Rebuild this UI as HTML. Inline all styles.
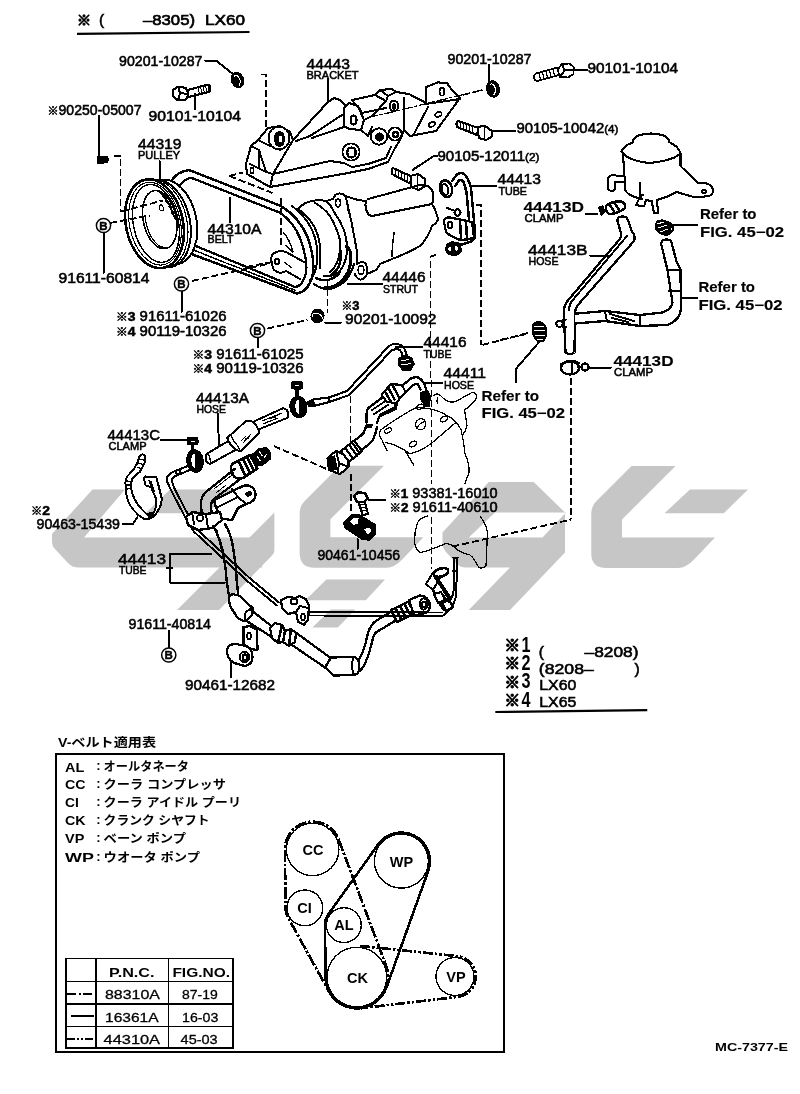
<!DOCTYPE html>
<html lang="ja">
<head>
<meta charset="utf-8">
<title>MC-7377-E Power Steering Pump</title>
<style>
html,body{margin:0;padding:0;background:#fff;}
body{width:800px;height:1094px;overflow:hidden;position:relative;}
svg{position:absolute;left:0;top:0;display:block;}
text{font-family:"Liberation Sans","Noto Sans CJK JP",sans-serif;fill:#000;}
#labels text{stroke:#000;stroke-width:0.55px;}
#labels text.b{stroke-width:0.15px;}
.n{font-size:14px;}
.p{font-size:15.5px;}
.s{font-size:11px;}
.b{font-weight:bold;}
path,ellipse,circle,rect{shape-rendering:crispEdges;}
#wm path{shape-rendering:auto;}
.l{fill:none;stroke:#000;stroke-width:2;stroke-linecap:round;stroke-linejoin:round;}
.l2{fill:none;stroke:#000;stroke-width:2.5;stroke-linecap:round;stroke-linejoin:round;}
.l3{fill:none;stroke:#000;stroke-width:2.6;stroke-linecap:round;stroke-linejoin:round;}
.w{fill:#fff;stroke:#000;stroke-width:2.1;stroke-linejoin:round;}
.w2{fill:#fff;stroke:#000;stroke-width:2.5;stroke-linejoin:round;}
.k{fill:#000;stroke:none;}
.d{fill:none;stroke:#000;stroke-width:1.9;stroke-dasharray:7 3;}
.dd{fill:none;stroke:#000;stroke-width:1.2;stroke-dasharray:9 3 2 3;}
</style>
</head>
<body>
<svg width="800" height="1094" viewBox="0 0 800 1094" style="filter:grayscale(1)">
<rect x="0" y="0" width="800" height="1094" fill="#fff"/>
<g id="wm" fill="#c6c6c6" stroke="none">
<!-- shape 1 -->
<path d="M92.5 489.5 L125 489.5 L84 537.5 L262 537.5 L262 567.5 L79 567.5 Q72 567.5 68 563 L55 549 Q52 546 52 541 L52 534 Z"/>
<path d="M170 489.5 L232 489.5 L207.5 513.25 L145.5 513.25 Z"/>
<path d="M274.4 512.5 L274.4 550 Q274.4 553 272.5 555 L219 610 L177 610 Z"/>
<!-- shape 2 -->
<path transform="translate(-291.6 -0.3)" d="M631.5 466 L675.5 466 L622 519.5 L622 537.5 L715 537.5 L694 559.5 Q686 568 678 568 L606 568 Q591.25 568 591.25 553 L591.25 514 Q591.25 506 597 500.5 Z"/>
<path d="M326.4 579.6 L385 579.6 L365.75 600.25 L305.4 600.25 Z"/>
<path d="M330.75 609.5 L355.25 609.5 L337.75 627.4 L312.4 627.4 Z"/>
<!-- shape 3 -->
<path fill-rule="evenodd" d="M488.75 482 L533.75 482 L565 512.5 L565 552.5 L510 610 L468.75 610 L510 567.5 L466 567.5 Q460 567.5 456 563 L446 552 Q442.5 548 442.5 543 L442.5 532.5 Z M495 512.5 L566 512.5 L542.5 537.5 L468.75 537.5 Z"/>
<!-- shape 4 -->
<path d="M631.5 466 L675.5 466 L622 519.5 L622 537.5 L715 537.5 L694 559.5 Q686 568 678 568 L606 568 Q591.25 568 591.25 553 L591.25 514 Q591.25 506 597 500.5 Z"/>
<path d="M690 489.5 L748 489.5 L723.75 513.25 L664.5 513.25 Z"/>
</g>
<g id="labels">
<text x="77" y="24.5" font-size="14" font-weight="bold" style="stroke-width:1.1px">※</text>
<text x="99" y="25" font-size="15.5">(</text>
<text x="143" y="25" font-size="15.5" textLength="52" lengthAdjust="spacingAndGlyphs" style="stroke-width:0.7px">–8305)</text>
<text x="205" y="25" font-size="15.5" textLength="40" lengthAdjust="spacingAndGlyphs" style="stroke-width:0.7px">LX60</text>
<path d="M77 33.8 L249.5 32" stroke="#000" stroke-width="2.2" fill="none" style="shape-rendering:auto"/>
<text class="n" x="119" y="65.5" textLength="83.5" lengthAdjust="spacingAndGlyphs">90201-10287</text>
<text class="p" x="306.5" y="68.5" textLength="43.5" lengthAdjust="spacingAndGlyphs">44443</text>
<text class="s" x="306.5" y="79" textLength="52" lengthAdjust="spacingAndGlyphs">BRACKET</text>
<text class="n" x="148.5" y="120.5" textLength="92.5" lengthAdjust="spacingAndGlyphs">90101-10104</text>
<text class="n" x="47.5" y="114.5" textLength="94" lengthAdjust="spacingAndGlyphs"><tspan font-size="11" font-weight="bold">※</tspan>90250-05007</text>
<text class="p" x="138" y="149" textLength="43.5" lengthAdjust="spacingAndGlyphs">44319</text>
<text class="s" x="138" y="158.5" textLength="42" lengthAdjust="spacingAndGlyphs">PULLEY</text>
<text class="p" x="207.5" y="233.5" textLength="54" lengthAdjust="spacingAndGlyphs">44310A</text>
<text class="s" x="207.5" y="243" textLength="26" lengthAdjust="spacingAndGlyphs">BELT</text>
<text class="n" x="58.5" y="283" textLength="91" lengthAdjust="spacingAndGlyphs">91611-60814</text>
<text class="n" x="116" y="321" textLength="110.5" lengthAdjust="spacingAndGlyphs"><tspan font-size="11" font-weight="bold">※</tspan><tspan font-size="13" font-weight="bold">3</tspan> 91611-61026</text>
<text class="n" x="116" y="335.5" textLength="110.5" lengthAdjust="spacingAndGlyphs"><tspan font-size="11" font-weight="bold">※</tspan><tspan font-size="13" font-weight="bold">4</tspan> 90119-10326</text>
<text x="341.5" y="310" font-size="11" font-weight="bold" textLength="18" lengthAdjust="spacingAndGlyphs">※<tspan font-size="13">3</tspan></text>
<text class="n" x="345" y="324" textLength="91.5" lengthAdjust="spacingAndGlyphs">90201-10092</text>
<text class="n" x="192.5" y="358.5" textLength="111" lengthAdjust="spacingAndGlyphs"><tspan font-size="11" font-weight="bold">※</tspan><tspan font-size="13" font-weight="bold">3</tspan> 91611-61025</text>
<text class="n" x="192.5" y="372.5" textLength="111" lengthAdjust="spacingAndGlyphs"><tspan font-size="11" font-weight="bold">※</tspan><tspan font-size="13" font-weight="bold">4</tspan> 90119-10326</text>
<text class="n" x="447.5" y="63.5" textLength="84" lengthAdjust="spacingAndGlyphs">90201-10287</text>
<text class="n" x="587.5" y="72.5" textLength="90.5" lengthAdjust="spacingAndGlyphs">90101-10104</text>
<text class="n" x="516.5" y="132.5" textLength="102" lengthAdjust="spacingAndGlyphs">90105-10042<tspan font-size="11">(4)</tspan></text>
<text class="n" x="437.5" y="160.5" textLength="102" lengthAdjust="spacingAndGlyphs">90105-12011<tspan font-size="11">(2)</tspan></text>
<text class="p" x="497.5" y="184" textLength="43.5" lengthAdjust="spacingAndGlyphs">44413</text>
<text class="s" x="498.5" y="194.5" textLength="28.5" lengthAdjust="spacingAndGlyphs">TUBE</text>
<text class="p b" x="523.5" y="212" textLength="60.5" lengthAdjust="spacingAndGlyphs">44413D</text>
<text class="s" x="524.5" y="222" textLength="39" lengthAdjust="spacingAndGlyphs">CLAMP</text>
<text class="p" x="528" y="254.5" textLength="59.5" lengthAdjust="spacingAndGlyphs">44413B</text>
<text class="s" x="528.5" y="265" textLength="30" lengthAdjust="spacingAndGlyphs">HOSE</text>
<text class="n b" x="700" y="218.5" textLength="56.5" lengthAdjust="spacingAndGlyphs">Refer to</text>
<text class="n b" x="700" y="236.5" textLength="84" lengthAdjust="spacingAndGlyphs">FIG. 45−02</text>
<text class="n b" x="698.5" y="292" textLength="56.5" lengthAdjust="spacingAndGlyphs">Refer to</text>
<text class="n b" x="698.5" y="309.5" textLength="84" lengthAdjust="spacingAndGlyphs">FIG. 45−02</text>
<text class="p" x="382.5" y="281.5" textLength="43" lengthAdjust="spacingAndGlyphs">44446</text>
<text class="s" x="383" y="293" textLength="35" lengthAdjust="spacingAndGlyphs">STRUT</text>
<text class="p" x="423.5" y="346.5" textLength="43" lengthAdjust="spacingAndGlyphs">44416</text>
<text class="s" x="423.5" y="357.5" textLength="28" lengthAdjust="spacingAndGlyphs">TUBE</text>
<text class="p b" x="613.5" y="366" textLength="60" lengthAdjust="spacingAndGlyphs">44413D</text>
<text class="s" x="614" y="376" textLength="39" lengthAdjust="spacingAndGlyphs">CLAMP</text>
<text class="p" x="443.5" y="378" textLength="42.5" lengthAdjust="spacingAndGlyphs">44411</text>
<text class="s" x="444" y="389" textLength="30" lengthAdjust="spacingAndGlyphs">HOSE</text>
<text class="n b" x="481.5" y="400.5" textLength="57.5" lengthAdjust="spacingAndGlyphs">Refer to</text>
<text class="n b" x="481.5" y="417.5" textLength="83.5" lengthAdjust="spacingAndGlyphs">FIG. 45−02</text>
<text class="n" x="389.5" y="497.5" textLength="108" lengthAdjust="spacingAndGlyphs"><tspan font-size="11" font-weight="bold">※</tspan><tspan font-size="13" font-weight="bold">1</tspan> 93381-16010</text>
<text class="n" x="389.5" y="511.5" textLength="108" lengthAdjust="spacingAndGlyphs"><tspan font-size="11" font-weight="bold">※</tspan><tspan font-size="13" font-weight="bold">2</tspan> 91611-40610</text>
<text class="n" x="317.5" y="560" textLength="82.5" lengthAdjust="spacingAndGlyphs">90461-10456</text>
<text class="p" x="196" y="402.5" textLength="53" lengthAdjust="spacingAndGlyphs">44413A</text>
<text class="s" x="196.5" y="413" textLength="29.5" lengthAdjust="spacingAndGlyphs">HOSE</text>
<text class="p" x="107.5" y="440" textLength="52.5" lengthAdjust="spacingAndGlyphs">44413C</text>
<text class="s" x="108.5" y="450" textLength="38" lengthAdjust="spacingAndGlyphs">CLAMP</text>
<text x="31" y="514.5" font-size="11" font-weight="bold" textLength="19" lengthAdjust="spacingAndGlyphs">※<tspan font-size="13.5">2</tspan></text>
<text class="n" x="36.5" y="528.5" textLength="83.5" lengthAdjust="spacingAndGlyphs">90463-15439</text>
<text class="p" x="118" y="563.5" textLength="48" lengthAdjust="spacingAndGlyphs">44413</text>
<text class="s" x="119" y="574" textLength="27.5" lengthAdjust="spacingAndGlyphs">TUBE</text>
<text class="n" x="128.5" y="628.5" textLength="82.5" lengthAdjust="spacingAndGlyphs">91611-40814</text>
<text class="n" x="185" y="690" textLength="90" lengthAdjust="spacingAndGlyphs">90461-12682</text>
</g>
<g id="pulley-belt">
<!-- belt loop -->
<path class="l2" d="M172 180 Q177 172 189 170 L281 206 Q299 217 308 238 Q316 262 312 278 Q307 292 297 293.5 L190 253.5"/>
<path class="l2" d="M178 188 Q182 180 191 177.7 L279.5 212.5 Q293 221 300 238 Q308 260 306 273 Q302 287 295 287 L191 244" style="stroke-width:2.3"/>
<path class="l" stroke-dasharray="2 1.4" d="M192 249.5 L296 290.5" style="stroke-width:1.5"/>
<!-- pulley back grooves -->
<ellipse class="w2" cx="0" cy="0" rx="27.5" ry="43" transform="translate(169 222) rotate(-12)" style="stroke-width:2"/>
<ellipse class="w2" cx="0" cy="0" rx="28" ry="44.5" transform="translate(162 223.5) rotate(-12)" style="stroke-width:2"/>
<ellipse class="l" cx="0" cy="0" rx="28" ry="44.5" transform="translate(159 223.5) rotate(-12)" style="stroke-width:1.2"/>
<g transform="translate(154.5 223.75) rotate(-12)">
<ellipse class="w2" cx="0" cy="0" rx="28.5" ry="45" style="stroke-width:2.6"/>
<ellipse class="l" cx="0.5" cy="0" rx="25.4" ry="42" style="stroke-width:1.1"/>
<ellipse class="l" cx="1.5" cy="0" rx="22.5" ry="39.5" style="stroke-width:1.5"/>
<ellipse class="l" cx="6" cy="-3" rx="16.5" ry="29.5" style="stroke-width:1.6"/>
<path class="l" d="M-7.5 -10 A15 28 0 0 0 6 25.5" style="stroke-width:1.3"/>
<ellipse class="l" cx="10" cy="-14" rx="2" ry="3" style="stroke-width:1.2"/>
<path class="l" d="M13 -28 L16 -22 M15 -25 L18 -18 M16 -20 L20 -12 M18 -14 L21 -6 M19 -8 L22 0 M12 -30 L19 -15" style="stroke-width:1.8"/>
</g>
<!-- leaders -->
<path class="l" d="M159.5 161 V179 M230 197.5 V222.5 M98.75 116 V156 M103.5 232.5 V273 M181.5 291 V312"/>
<path class="k" d="M97 158 Q96 156.5 98 156 L106 155.5 Q108.5 155.5 108.5 158 L108.5 161 Q108.5 163 106 163.3 L99 164 Q97 164 97 162 Z"/>
<path class="d" d="M113.75 156 H120.5 V211.75 M121 211.5 L163 200.5 M110 223 L150 215.5 M192 281 L270 263.4"/>
<circle class="w" cx="103.5" cy="225.5" r="7.1" style="stroke-width:1.5;shape-rendering:auto"/>
<text x="103.5" y="229.6" font-size="11.5" font-weight="bold" text-anchor="middle" stroke="#000" stroke-width="0.4">B</text>
<circle class="w" cx="181.5" cy="284" r="7.1" style="stroke-width:1.5;shape-rendering:auto"/>
<text x="181.5" y="288.1" font-size="11.5" font-weight="bold" text-anchor="middle" stroke="#000" stroke-width="0.4">B</text>
<!-- washer + bolt top-left -->
<path class="l" d="M205 60.5 H216 L233 74"/>
<ellipse cx="237.5" cy="80" rx="6.6" ry="8.4" transform="rotate(-20 237.5 80)" fill="#000"/><path d="M235.0 76 q2.5 -3 4.5 1.5 q1.5 5 -2.5 8.5" transform="rotate(-20 237.5 80)" fill="none" stroke="#fff" stroke-width="1"/>
<path class="d" d="M261 74.5 H266 V136"/>
<path class="w" d="M173 90 L178 86.5 L186 88 L188.5 94 L186 99.5 L178 100.5 L173.5 97 Z"/>
<path class="l" d="M178 86.5 L180 93 L178 100.5 M180 93 L188.5 94"/>
<path class="w" d="M188 90 L208 84.5 Q210.5 85 210.5 88 Q210.5 91 209 92 L188.5 97 Z"/>
<path class="l" d="M198 87.5 L199.5 94 M200.5 87 L202 93.5 M203 86.3 L204.5 93 M205.5 85.7 L207 92.3 M208 85 L209 91.5" style="stroke-width:1"/>
<path class="l" d="M195 94 V108.75"/>
</g>
<g id="bracket">
<path class="l" d="M327.5 79 V101"/>
<!-- main plate -->
<g style="stroke-width:1.9">
<path class="w" d="M246 164 L251 146 L258 140 L268 128 L280 126 L290 132 L293 140 L328 102 L334 98 L340 100 L346 106 L349 103 L358 106 L362 113 L352 100 L375 95 L380 90 L392 89 L396 92 L409 94 L426 103 L426 87 L438 82.4 L447 83 L452 90 L460 98 L436 131 L410 136 L404 130 L400 140 L395 148 L388 162 L368 169 L348 173 L270 187 L247 174 Z"/>
<path class="l" d="M273 174 L330 161 L344 163 L352 167 L368 164 L386 158 L391 147 M270 187 L273 174 L266 172 L250 164 M273 174 L293 140 M258 140 L266 144 L280 150 M251 146 L259 150 L266 172 M259 150 L259 168"/>
<path class="l" d="M310 136 L342 115 M312 138 L344 127 M296 141 L310 136"/>
<path class="w" d="M344 108 L349 103 L358 106 L364 120 L361 130 L349 129 L344 126 Z"/>
<path class="l" d="M364 120 L372 116 L386 101 M361 130 L368 136 L372 127 M388 96 L396 92 M386 101 L388 96 L380 90 M375 95 L386 101 M404 98 V130 M426 104 L460 99 M428 107 L414 134 M362 113 L386 108"/>
</g>
<path class="l" stroke-dasharray="10 3 2 3" d="M482 90 L388 113 L366 118" style="stroke-width:1.25"/>
<!-- holes -->
<ellipse class="w" cx="279" cy="138" rx="10.5" ry="11.5" style="stroke-width:1.9"/>
<ellipse cx="279.5" cy="139" rx="5.6" ry="8" fill="#000"/>
<ellipse cx="280.5" cy="139" rx="1.8" ry="3.2" fill="#fff"/>
<ellipse class="w" cx="353.6" cy="120" rx="3" ry="4.6" style="stroke-width:2.2"/>
<ellipse class="w" cx="394" cy="106" rx="4.4" ry="5.4" style="stroke-width:1.8"/>
<ellipse cx="394" cy="106.5" rx="2.2" ry="3.2" fill="#000"/>
<ellipse class="w" cx="442" cy="91.6" rx="2.4" ry="4" style="stroke-width:1.8"/>
<ellipse class="w" cx="438.4" cy="114.4" rx="3.4" ry="2.2" transform="rotate(-25 438.4 114.4)" style="stroke-width:1.7"/>
<ellipse class="w" cx="432" cy="124.4" rx="3.4" ry="2.2" transform="rotate(-25 432 124.4)" style="stroke-width:1.7"/>
<circle class="w" cx="351" cy="152" r="8.6" style="stroke-width:1.9"/>
<ellipse class="w" cx="351.5" cy="152.5" rx="4.2" ry="5" style="stroke-width:2.4"/>
<circle class="w" cx="379" cy="136.5" r="8.2" style="stroke-width:1.9"/>
<circle cx="379.5" cy="137" r="4.6" fill="#000"/>
<circle class="w" cx="395" cy="134" r="6.6" style="stroke-width:1.9"/>
<circle class="w" cx="395.5" cy="134.5" r="2.4" style="stroke-width:2.6"/>
<ellipse class="w" cx="252" cy="170.5" rx="1.6" ry="3.2" style="stroke-width:1.7"/>
<!-- nut top right -->
<path class="l" d="M488.75 65 V81"/>
<ellipse cx="493" cy="88.9" rx="7" ry="8.8" transform="rotate(-12 493 88.9)" fill="#000"/><path d="M490.5 84.9 q2.5 -3 4.5 1.5 q1.5 5 -2.5 8.5" transform="rotate(-12 493 88.9)" fill="none" stroke="#fff" stroke-width="1"/>
<path class="d" d="M462.5 95 L482.5 90"/>
<path class="w" d="M557.5 70 L562 64 L569 63.5 L573.75 67 L573.5 74 L568 77.5 L560 77 Z" style="stroke-width:1.8"/>
<path class="l" d="M562 64 L564.5 70.5 L560 77 M564.5 70.5 L573.5 70"/>
<path class="w" d="M536 73.5 L557.5 67.5 L559 75 L537 81 Q534 80 534 77 Q534 74.5 536 73.5 Z" style="stroke-width:1.8"/>
<path class="l" d="M539 73 L540.5 79.5 M542.5 72 L544 78.5 M546 71 L547.5 77.5 M549.5 70 L551 76.5 M553 69 L554.5 75.5" style="stroke-width:1.3"/>
<path class="l" d="M573.75 70 H587.5"/>
<!-- bolt 90105-10042 -->
<path class="w" d="M477 127 L485 126 L492 131 L491.5 137 L486 140 L479 138 Z"/>
<path class="w" d="M458 121 L478.5 128 L477 135 L457 127 Q455.5 123 458 121 Z"/>
<path class="l" d="M461 122 L460 128 M464 123 L463 129.5 M467 124 L466 130.5 M470 125 L469 131.5 M473 126 L472 133 M485 126 L484 139" style="stroke-width:1.1"/>
<path class="l" d="M492.5 131 H515"/>
<!-- bolt 90105-12011 -->
<path class="w" d="M410 176 L418 174 L425 179 L425 186 L419 190 L411 187 Z"/>
<path class="w" d="M393 168 L411.5 176.5 L410 183.5 L392 174 Q391 170 393 168 Z"/>
<path class="l" d="M396 169.5 L395 175.5 M399 171 L398 177 M402 172.5 L401 178.5 M405 174 L404 180 M408 175.3 L407 181.5 M418 174 L417.5 189" style="stroke-width:1.1"/>
<path class="l" d="M412.5 170 L433.75 156 H437.5"/>
</g>
<g id="pump">
<!-- front housing -->
<path class="l" d="M297 210 Q304 202 312 201 Q320 199.5 326 201 Q331 205 334 212 Q340 220 344 230 Q347 240 347 248 Q347 257 344 264 Q341 271 336 274 Q330 277 324 276"/>
<path class="l" d="M315 203 Q324 208 330 216 Q337 228 340 240 Q341 251 338 260 Q335 268 330 272"/>
<!-- pump pulley arcs -->
<path class="l" d="M292 206 Q303 214 310 226 Q316 237 317 248 Q318 259 316 268 Q314 276 310 280"/>
<path class="l" d="M298 209 Q308 216 314 226 Q319 236 320 246 Q321 258 320 268"/>
<path class="l" d="M283 232 Q290 240 293 252 M284 262 L292 268 M286 246 L293 252" style="stroke-width:1.4"/>
<!-- flange + ears -->
<path class="l" d="M334 197 Q336 193 340 193.5 Q345 194 346 198 Q348 204 348 210 M346 198 Q352 222 356 246 Q358 256 357 264 M326 201 L333 199"/>
<ellipse class="w" cx="338" cy="203" rx="2.4" ry="4" style="stroke-width:1.7"/>
<path class="l" d="M357 264 Q361 261 365 263 Q368 266 367 274 Q364 280 360 279.5 Q356 278 355 274"/>
<ellipse class="w" cx="361" cy="270" rx="2.8" ry="4.4" style="stroke-width:1.7"/>
<!-- body -->
<path class="l" d="M345 196 L358 200 L366 201 M368 199 L420 185 M366 201 Q364 208 369 215 L372 216 L432 204 M420 185 Q428 184 432 190 Q435 197 432 204 Q437 212 438 220 Q436 224 432 226 Q428 238 420 246 Q406 254 392 259 L380 264 Q378 268 376 270 L367 274"/>
<path class="l" d="M394 233 Q392 245 392 256" style="stroke-width:1.5"/>
<!-- strut -->
<path class="l3" d="M346 246 Q351 250 351 256 Q351 265 348 272 Q344 280 338 284 Q332 288 324 288" style="stroke-width:3"/>
<path class="l2" d="M340 248 Q342 258 339 266 Q336 272 330 276"/>
<path class="l2" d="M316 278 Q322 281 328 280 Q336 278 340 272"/>
<path class="l2" d="M314 284 Q322 290 330 289 Q340 286 346 280 Q352 272 354 264" style="stroke-width:2.2"/>
<path class="l" d="M347.5 283.75 H382.5"/>
<path class="d" stroke-dasharray="9 3" d="M327.5 279 V312.5"/>
<path class="d" d="M267.5 328.5 L307.5 320"/>
<circle class="w" cx="257.5" cy="330.5" r="7.1" style="stroke-width:1.5;shape-rendering:auto"/>
<text x="257.5" y="334.6" font-size="11.5" font-weight="bold" text-anchor="middle" stroke="#000" stroke-width="0.4">B</text>
<path class="l" d="M257.5 337.5 V347.5"/>
<ellipse cx="317.5" cy="316" rx="7.4" ry="7" transform="rotate(-70 317.5 316)" fill="#000"/><path d="M315.0 312 q2.5 -3 4.5 1.5 q1.5 5 -2.5 8.5" transform="rotate(-70 317.5 316)" fill="none" stroke="#fff" stroke-width="1"/>
<path class="l" d="M325 322.5 H341"/>
<!-- strut plate w/ hole (left of housing) -->
<path class="l" d="M272 255 Q270 262 274 270 Q280 275 286 271 L300 279 M272 255 Q278 249 286 252 L304 262"/>
<ellipse class="w" cx="277" cy="261.5" rx="2" ry="2.8"/>
<path class="d" d="M281 197.6 V247.5 M246 267 L272.5 262"/>
<path class="d" d="M229.5 176 L272.5 193 M229.5 176 L243 172.5"/>
</g>
<g id="tube44413">
<ellipse class="w2" cx="446" cy="188.75" rx="6" ry="8.5" transform="rotate(-15 446 188.75)"/>
<ellipse class="w" cx="445" cy="189.5" rx="3.2" ry="5.5" transform="rotate(-15 445 189.5)"/>
<path class="l2" d="M452 181 L457 174.5 Q460 172 464 174 Q468 177 471 188 L475 232 Q476 240 470 242 L460 245"/>
<path class="l2" d="M455 186 L459 180.5 Q462 179 464 183 L466.5 192 L470 230 Q470 236 466 237.5 L459 240"/>
<path class="l" d="M471 186 H496"/>
<!-- clamp strap -->
<path class="w" d="M444 222 Q444 217 450 217.5 L472 222 L474 238 L462 240 Q452 238 446 232 Z" style="stroke-width:2.3"/>
<ellipse class="w" cx="450" cy="225" rx="2.2" ry="3.4"/>
<path class="l2" d="M460 220 L461 239 M466 221 L467 240"/>
<ellipse class="w" cx="457.5" cy="212.5" rx="3" ry="3.4"/>
<path class="l" d="M447 208 L455 211"/>
<!-- lower fitting -->
<path d="M446 244 L452 241 L461 243 L462 252 L456 256.5 L448 255 L445 250 Z" fill="#000"/>
<ellipse cx="450" cy="249" rx="1.6" ry="2.6" fill="#fff"/>
<ellipse cx="456.5" cy="248.5" rx="1.4" ry="2.6" fill="#fff"/>
<!-- dashed -->
<path class="d" d="M476 205 H481.25 V345"/>
<path class="d" d="M482.5 345 L530 332.5"/>
<path class="d" d="M436 255 L430.5 256.5 V380"/>
</g>
<g id="reservoir">
<path class="w" d="M623 154 L625.5 191 Q630 197 642.5 198.75 L639 199 L636 205 L644 206.5 L646 200 L651.7 201 L654 213 L658 213 L657 200 Q668 197 676.6 192 L695 197.4 L709.4 196 Q714 193 713 189.5 Q711 184 705 183 L697.6 183 L680.5 166 L680.5 152.8 Z"/>
<path class="w" d="M621.5 151.5 Q624 145 633 142.5 Q633 137 640 135 Q651 132 662 135 Q669 137 669 142 Q678 146 680.5 152.8 Q676 160 650 163 Q628 161 621.5 151.5 Z"/>
<path class="l" d="M640 183 V196 L643 195"/>
<circle class="w" cx="704" cy="191.4" r="1.8"/>
<path class="l" d="M622.8 176.4 L612 175 Q608 176 608 180 L608.4 189.5 Q611 192 614.5 190 L614.5 183 Q615 181.5 617 181.5 L623.5 181.7"/>
</g>
<g id="hoses-right">
<!-- clamp screw 44413D upper -->
<path class="l" d="M586 213.75 H597"/>
<path d="M598 207 L603 205 L606 212 L601 216 Z" fill="#000"/>
<path class="w2" d="M606 206 Q612 201 621 201.5 Q626 203 625 208 Q618 214 609 214 Q605 211 606 206 Z"/>
<path class="l2" d="M610 205 L614 211 M615 203.5 L619 210"/>
<!-- hose 44413B -->
<path class="w" d="M617.5 221 Q617 217 622 216.5 Q627 216.5 627.5 219 L632 231.5 Q636 236 634 241 L577 306 Q575 309 575 314 L574.5 352.5 Q570 355.5 565.5 352.5 L563.75 312 Q564 306 566.25 302.5 L619 240 Q621.5 237 621 233 Z" style="stroke-width:2.3"/>
<path class="l" d="M627 236 L572 301 Q569 305 569 310"/>
<path class="l" d="M590 255.5 H610"/>
<!-- horizontal hose -->
<path class="w" d="M575 313.75 L605 311 L640 315 L662.5 312.5 Q671 310 672.5 302.5 L667.4 269.6 L661 243.4 Q662 239.5 666 239.5 Q671 239.5 671.4 242 L676.6 261.75 L680.5 269.6 L681 308 Q680.5 320 667.5 325 L640 326 L605 321 L575 323.5" style="stroke-width:2.3"/>
<path class="l" d="M668 270 L680.5 269.6 M669 291 L680.5 291 M605 311 L607 321 M640 315 L640 326 M610 314 L634 321 M612 318 L628 322"/>
<circle class="w" cx="559.5" cy="323.75" r="3.2"/>
<path class="l" d="M562.5 320.5 L566 319.5 M562.5 327 L566 327"/>
<path class="l" d="M681 297.5 H697.5"/>
<!-- clamp right (refer) -->
<path d="M655 224 Q656 219 663 219.5 L670 222 Q674 224 674 229 Q672 235 666 236 Q658 235 655 229 Z" fill="#000"/>
<path d="M657 224 L664 222 M658 228 L667 225 M660 232 L668 229" stroke="#fff" stroke-width="1" fill="none"/>
<circle class="w" cx="671.5" cy="229" r="2"/>
<path class="l" d="M674 225 H697.6"/>
<!-- clamp left (refer) -->
<path d="M531.5 327 Q532 321 539 321 Q546 322 547.5 330 Q548 338 543 342.5 L537 342 Q531 336 531.5 327 Z" fill="#000"/>
<path d="M534 327 L544 326 M534 331 L545 330.5 M535 335 L545 335 M537 339 L543 339" stroke="#fff" stroke-width="1" fill="none"/>
<path class="l" d="M538.75 342.5 L516 368.75 V382"/>
<path class="d" d="M500 340 L527.5 333.75"/>
<!-- clamp 44413D lower -->
<ellipse class="w2" cx="570" cy="368" rx="9" ry="6.5" style="stroke-width:2.4"/>
<path class="l2" d="M561.5 364 Q570 358.5 578.5 363 M572 362 V374"/>
<circle class="w2" cx="585" cy="367" r="3.4"/>
<path class="l2" d="M578 367 H582"/>
<path class="l" d="M588.75 367.5 H611"/>
<path class="d" stroke-dasharray="9 3" d="M571.25 377.5 V519"/>
</g>
<g id="lower-left">
<!-- leaders -->
<path class="l" d="M217.7 414 L219 445 M161 440 H186 M122.5 523.75 H133 L137.5 517 M169.5 554.25 H211 M169.5 554.25 V582.5 H225 M167 568 H172 M168.75 631 V647.5 M230.5 662.5 V677.5"/>
<!-- clamp 90463-15439 band -->
<path class="w" d="M142.4 454.4 Q139 455 138.25 460 Q136 468 127.75 475.75 Q125 480 125.5 484 Q125.5 491 127 497.5 Q129 505 133.75 510.25 Q138 515.5 143.5 518.5 L148.75 519.25 Q156 517 160.75 505 Q162 501 161.5 497.5 L158.5 485.5 L156.25 477.25 L145.5 476.5 Q143.5 478 144.25 480.25 L145.75 485.5 L151 487 L155.5 497.5 Q156.5 501 156 505 Q155.5 509 154 512.5 L146.5 514 Q144 511.5 141.25 508.75 Q137 504 134.5 499 Q131.5 493 131 487 Q131 482 132.25 478.75 Q135.5 475 139.75 472 L144.25 463.75 Q146 458 144.5 455.5 Q143.5 454.3 142.4 454.4 Z" style="stroke-width:2"/>
<path d="M146.5 513.25 L153.25 512.5 L154 517 L148.75 519.5 Z" fill="#000"/>
<path class="l" d="M139.5 459 L143.5 460 M138.5 463 L142.5 464.5 M137 467 L140.5 468.5 M127.5 481 L131 481.5 M127 485 L130.5 485 M127.5 489 L131 488.5" style="stroke-width:1.2"/>
<path d="M148 480 L151.5 481 L155 492 L153 492.5 Z" fill="#000"/>
<!-- clamp 44413C #1 -->
<rect x="186.5" y="437" width="12" height="8" rx="2.5" fill="#000"/>
<path d="M190.5 441 H194.5" stroke="#fff" stroke-width="1" fill="none"/>
<path class="l2" d="M192.5 445 V452" style="stroke-width:3.4"/>
<ellipse cx="195" cy="461" rx="6.6" ry="9.6" transform="rotate(-8 195 461)" fill="#fff" stroke="#000" stroke-width="4.6"/>
<path d="M196.5 453 V469" stroke="#000" stroke-width="3" fill="none"/>
<path class="l2" d="M197 452 Q200 461 198 470 M191 455 Q189 462 192 468" style="stroke-width:2.3"/>
<!-- hose 44413A -->
<path class="w" d="M208 453 L228 441.25 L236.25 449.5 L210 464 Q206 463 205.5 458 Q205.5 454 208 453 Z" style="stroke-width:2"/>
<path class="w" d="M252.75 422 L283 408.25 Q287.5 409 288 413 Q288.5 417 287 418 L258.25 429.5 Z" style="stroke-width:2"/>
<path class="w" d="M227.3 437.8 L246.5 420.6 Q252 420 255 424 Q259 429 259 433 L240.4 451.5 Q235 450 231 445 Q228 441 227.3 437.8 Z" style="stroke-width:2"/>
<path class="l" d="M231.5 436 Q233 441 237 445 Q239 448 240 450.5 M208.5 454 Q210 458 211 463" style="stroke-width:1.3"/>
<path class="l" d="M241 441 L246 436 M243 443 L251 434 M245 439 L249 438 M262 421 L281 413.5 M264 423.5 L278 418 M268 419 L276 417" style="stroke-width:1.2"/>
<!-- small tube from clamp going down -->
<path class="l" d="M188.5 470.5 L178 475 Q171 477.5 172 481.5 L174.7 489.2 L189.7 517.7 L196.8 529.1 L250.3 578.6 L279 602.5" style="stroke-width:2"/>
<path class="l" d="M186.5 466.5 L175 471 Q165.5 475 166.8 481 L171.3 490.8 L186.3 519.3 L194.2 531.9 L247.7 581.4 L277 605.6" style="stroke-width:2"/>
<circle class="w" cx="178" cy="472" r="2.2"/>
<!-- lower hose with union -->
<path d="M252 455 L259 448.5 L266.5 448 L270.75 453 L270 459 L262 465.5 L256 465 Z" fill="#000" stroke="#000" stroke-width="1.5"/>
<path d="M259.5 451.5 L262.5 456 M257 456 L260.5 461 M264 458 L266.5 454" stroke="#fff" stroke-width="1.1" fill="none"/>
<path class="w" d="M231 469 Q230 465 235 462.5 L250 455 L257.5 468.5 L243 478 Q236 480 233 475 Z" style="stroke-width:2.6"/>
<path class="l" d="M238.5 461 L245.5 476 M243 458.5 L250 473.5 M247 456.5 L254 471" style="stroke-width:2.8"/>
<path class="l2" d="M235 468.75 L206 492 Q200 498 201 506 L202 514 M241 478.5 L214 499 Q210 503 211 508 L212 514" style="stroke-width:2.3"/>
<path class="l" d="M214 489 L232 475 M216 493 L226 485" style="stroke-width:1"/>
<!-- stay with hole -->
<path class="w" d="M222.5 518.75 L216 508 L214 500 L240 487.5 Q246 483.5 252 487 Q257 491 255 498 Q252 503 246 504 L238 508 L232 520 Z" style="stroke-width:2.3"/>
<ellipse cx="248.75" cy="493.8" rx="3.6" ry="2.6" fill="#000" transform="rotate(-20 248.75 493.8)"/>
<path class="l" d="M216 508 L238 497 L246 504 M238 497 L232 489"/>
<!-- junction block -->
<path class="w" d="M186 517 L192 512 L206 514 L220 512 L222 520 L212 528 L198 530 L188 525 Z" style="stroke-width:2.3"/>
<circle class="w" cx="200" cy="518" r="3.2"/>
<path class="l" d="M206 514 L208 528 M192 512 L194 524"/>
<!-- big tubes -->
<path class="l2" d="M213 526 Q219 536 222.5 550 L225.5 568 Q226.5 583 229 596 M225 524 Q231 534 233 547 L236 568 Q236.5 582 238 593" style="stroke-width:2.4"/>
<path class="l" d="M216.5 530.5 Q220 540 221.75 550" style="stroke-width:2"/>
<!-- sleeve -->
<path class="w" d="M229 600 Q228 596 233 594 L240 596 L252.5 608 Q254 612 251 616 L246 621 Q241 621 237 617 L230 606 Z" style="stroke-width:2.3"/>
<path class="l" d="M246 621 Q243 615 247 611 L252.5 608"/>
<!-- hose from sleeve to union -->
<path class="l2" d="M251 610 L270 625 M245 620 L272.5 637.5" style="stroke-width:2.3"/>
<path class="w" d="M270 628 L275 623 L282 625 L285 631 L291 629 L296 633 L295 642 L289 646 L283 642 L278 643 L272 638 Z" style="stroke-width:2.3"/>
<path class="l2" d="M282 625 L278 643 M285 631 L283 642 M291 629 L289 646"/>
<path class="l2" d="M295 632 L330 657.5 M292 645 L325 667.5" style="stroke-width:2.3"/>
<!-- end sleeve -->
<path class="w" d="M331 657.5 L354 657 Q358 658 359 663 L359 670 Q358 674.5 354 675 L334 675.5 L325 667.5 Z" style="stroke-width:2.3"/>
<path class="l" d="M354 657 Q350 665 354 675"/>
<!-- thin tube clamp -->
<path class="w" d="M281 600 L288 597 L296 598 L299 596 L306 599 L309 606 L308 620 L304 624.5 L298 622 L296 612 L288 614 L282 608 Z" style="stroke-width:2.3"/>
<circle class="w" cx="294" cy="601.5" r="3"/>
<ellipse class="w" cx="303" cy="617" rx="1.8" ry="3"/>
<path class="l" d="M296 612 L300 606 L308 608"/>
<!-- clamp 90461-12682 -->
<path class="w" d="M243.5 627 L250 626 L257 630 L257.5 650 L251 649 L243.5 644 Z" style="stroke-width:2.3"/>
<ellipse class="w" cx="249" cy="636" rx="1.8" ry="3"/>
<path class="w" d="M227 650 Q228 644 236 644 L246 646 Q252.5 649 252.5 657 Q252 665 245 666 L234 663 Q227 659 227 650 Z" style="stroke-width:2.3"/>
<ellipse class="w" cx="244.5" cy="657" rx="4.6" ry="5.4" style="stroke-width:2"/>
<ellipse class="l" cx="245" cy="657.5" rx="2.4" ry="3.2"/>
<!-- B circle -->
<circle class="w" cx="168.75" cy="655" r="7.1" style="stroke-width:1.5;shape-rendering:auto"/>
<text x="168.75" y="659.1" font-size="11.5" font-weight="bold" text-anchor="middle" stroke="#000" stroke-width="0.4">B</text>
</g>
<g id="lower-right">
<!-- tube 44416 -->
<path class="l" d="M329 397.5 L347 391 L389 346 Q392 344 395 344 L399 344.5 Q403.5 346 405 350 L407.5 357" style="stroke-width:2.1"/>
<path class="l" d="M329 402 L349.5 395 L392 350 L397.5 349 Q400.5 350 401.5 352.5 L403.5 358.5" style="stroke-width:2.1"/>
<path class="w" d="M308 402 L313 399.5 L329 397.5 L329.5 402 L314 406 L309 406.5 Z"/>
<path d="M308 401 L313 399 L316 404.5 L310 407.5 Z" fill="#000"/>
<path d="M398 358 L404 355 L412 357 L415 364 L411 370.5 L403 371.5 L398.5 366 Z" fill="#000"/>
<path d="M401 361 L409 359.5 M401.5 365 L411 363.5" stroke="#fff" stroke-width="1" fill="none"/>
<path class="l" d="M396 347 H422.5"/>
<!-- clamp 44413C #2 -->
<rect x="291" y="381" width="12" height="8.5" rx="2.5" fill="#000"/>
<path d="M295 385 H299" stroke="#fff" stroke-width="1" fill="none"/>
<path class="l2" d="M297 389 V398" style="stroke-width:3.4"/>
<ellipse cx="298.5" cy="407" rx="6.8" ry="9" transform="rotate(-8 298.5 407)" fill="#fff" stroke="#000" stroke-width="4.6"/>
<path d="M300.0 399 V415" stroke="#000" stroke-width="3" fill="none"/>
<path class="l2" d="M301 398 Q304 407 302 415 M295 401 Q293 408 296 414" style="stroke-width:2.3"/>
<!-- hose 44411 -->
<path class="w" d="M327.5 458 L336 451 L348.5 457 L348.5 467 L340 474 L329 470 Z" style="stroke-width:2.2"/>
<path d="M327.5 458 L335 455 L338 470 L329 470 Z" fill="#000"/>
<path class="l" d="M336 451 L339 463 L348.5 467 M339 463 L338 472"/>
<path class="w" d="M341 451 L354 440.5 L362 451 L349 462 Z" style="stroke-width:2.2"/>
<path class="l2" d="M345 448 L353.5 459 M349 445 L357.5 456 M352 442.5 L360 453.5" style="stroke-width:2.2"/>
<path class="l2" d="M352 442 Q360 437 363.5 433 L366.5 425.5 M362 449.5 Q369 445 372.5 440.5 Q376 434 377 427" style="stroke-width:2.3"/>
<path d="M366 423.5 L373 424 L372 428.5 L366.5 428 Z" fill="#000"/>
<path class="l2" d="M366.5 422.5 L366.5 413.5 Q367 408 371 406 L383 397 M377 422.5 L380 415 L395 407.5 L395.5 401" style="stroke-width:2.3"/>
<path class="l" d="M372 410 L384 402 M374 414 L388 405 M381 416 L396 409 L397 403" style="stroke-width:1.9"/>
<path class="w" d="M381.5 395 L391 384 L402 385 L405.5 392 L396 403 L387 402 Z" style="stroke-width:2.2"/>
<path class="l2" d="M385 391.5 L391 402 M388.5 388 L394.5 399.5 M392.5 385 L398.5 396.5" style="stroke-width:2.4"/>
<path class="l2" d="M402 386 L410 379 Q414 376.5 418 377.5 Q422 379 425 385 L426.5 392 M405.5 392.5 L413 385 Q416 383.5 418 384.5 L420.5 389.5" style="stroke-width:2.3"/>
<path d="M419.5 392 L428 390 L431 396 L430 407 L425 407.5 L420 399 Z" fill="#000"/>
<path class="l" d="M423.75 383 H442.5"/>
<!-- gearbox wavy outline -->
<g class="l" style="stroke-width:1.25">
<path d="M417 407 Q400 416 380.5 430 Q378 436 382 440 L387 450.5 M385.75 442.6 Q395 444 405 450.5 L413.75 465 M405 450.5 L410 454 Q424 450 433 442 L455.75 422.5 Q452 418 447 415.5 Q438 410 427.75 408.5 L417 407"/>
<path d="M433 396 Q437 392 441 396 Q448 404 455.75 401.5 L471.5 392.75 Q477 392 476.75 398 Q472 405 464.5 410 Q466 418 467 426 Q466 431 462.75 434.75 M438 397 Q436 401 438 404 M461 429.5 Q464 442 465 454 Q470 464 469 473 Q466 479 465 483.75 M447 415.5 Q456 420 461 429.5"/>
<path d="M480 516 Q486 524 487.5 532 L486 566 Q482 569 478.75 567.5 Q474 558 470 555 Q462 553 457.5 550 L453.75 546.25 Q449 543 445 543.75 Q438 547 432.5 548.75 Q426 552 420 552.5 Q414 548 414.6 540 Q414.5 532 417 524 Q419 518 427.75 516"/>
<ellipse cx="420" cy="406.75" rx="3.6" ry="2.2" transform="rotate(-25 420 406.75)"/>
<ellipse cx="388" cy="430.5" rx="3.8" ry="2.2" transform="rotate(-25 388 430.5)"/>
<ellipse cx="413" cy="444" rx="4" ry="2.4" transform="rotate(-25 413 444)"/>
<ellipse cx="444" cy="419" rx="4" ry="2.4" transform="rotate(-25 444 419)"/>
<ellipse cx="420.75" cy="424.25" rx="5" ry="5.6" transform="rotate(20 420.75 424.25)"/>
<path d="M417.5 427.5 Q421 421 425.5 422"/>
</g>
<!-- dashed lines -->
<path class="d" stroke-dasharray="9 3" d="M350.5 396 V443 M350.75 474 V512.5 M431.5 380 V484 M431.5 517 V569"/>
<path class="d" d="M273.75 446 L326 468.75"/>
<path class="d" d="M452.5 546.5 L571.25 519.5"/>
<!-- bolt 93381 -->
<path class="w2" d="M354 496 L358 492.5 L365 493 L367.5 498 L364 502.5 L357 502 Z"/>
<path class="w" d="M358.5 502 L365 502.5 L368 514 L362.5 515 Z"/>
<path class="l" d="M359.5 505 L366 504.5 M360.5 508 L367 507.5 M361.5 511 L367.5 510.5" style="stroke-width:1"/>
<path class="l" d="M368.75 500 H385"/>
<!-- clamp 90461-10456 -->
<path d="M343 522 L352 514 L360 514.5 L375.5 524 L376 534 L370 541 L361 539.5 L344 528 Z" fill="#000"/>
<path d="M350 521 L354 517.5 L358.5 518.5 L358 523.5 L353 525 Z M364 529 L369.5 527.5 L371.5 531 L367.5 534.5 Z" fill="#fff"/>
<path class="l" d="M357.5 539 V548.75"/>
<!-- hose bottom right -->
<path class="l2" d="M358.75 660 Q364 652 367.5 635 Q370 624 377.5 620 L392 611 M358 672 Q366 668 372.5 640 Q374 632 380 630 L394 621.5" style="stroke-width:2.3"/>
<path class="w" d="M391 610 L408 602 L415 613 L397 622 Z" style="stroke-width:2.3"/>
<path class="l2" d="M395.5 608 L401.5 620 M400 606 L406 617.5 M404.5 604 L410.5 615.5"/>
<path class="w" d="M409 600 L420 595.5 Q428 596 430 604 Q430 611 426 613 L414 615.5 Z" style="stroke-width:2.3"/>
<ellipse class="w" cx="423.75" cy="604" rx="4" ry="5.6" style="stroke-width:2"/>
<ellipse class="l" cx="424" cy="604.5" rx="1.8" ry="3"/>
<!-- thin tube horizontal -->
<path class="l" d="M308 612 L442 612.5 M308 615.5 L440 616" style="stroke-width:1.9"/>
<!-- upper fitting -->
<path class="w" d="M426 584 L433 572.5 L440 578 L433 590 Z" style="stroke-width:2"/>
<ellipse class="w" cx="441" cy="572.5" rx="7.5" ry="4" transform="rotate(-18 441 572.5)" style="stroke-width:2.8"/>
<path class="l3" d="M436 577.5 L450 598.75" style="stroke-width:4"/>
<path class="l2" d="M433 590 L437 600 L444 610 M440 592 L446 599"/>
<path class="w" d="M434 594 L441 592 L445 600 L438 603 Z" style="stroke-width:2.2"/>
<path class="w" d="M442 603 L449 600 L453 607 L446 611 Z" style="stroke-width:2.4"/>
<path class="l2" d="M454.4 558 L453.75 590 Q453 597 449 602 M457 560 L456.25 593.75 Q456 600 452.5 605" style="stroke-width:2"/>
<path class="l2" d="M453 557.5 H458 M452.5 571 H457.5" style="stroke-width:2"/>
<path class="l" d="M421 615.5 H443 L452.5 607.5" style="stroke-width:2"/>
</g>
<g id="vbelt">
<text x="58" y="747" font-size="12.5" font-weight="bold" textLength="98" lengthAdjust="spacingAndGlyphs">V-ベルト適用表</text>
<rect x="56" y="754.2" width="447.7" height="297.8" fill="none" stroke="#000" stroke-width="1.9"/>
<g font-size="13" font-weight="bold">
<text x="65" y="771.5" textLength="19.3" lengthAdjust="spacingAndGlyphs">AL</text><text x="96.3" y="770.3">:</text>
<text x="65" y="789.2" textLength="20.6" lengthAdjust="spacingAndGlyphs">CC</text><text x="96.3" y="788">:</text>
<text x="65" y="807.2" textLength="13.8" lengthAdjust="spacingAndGlyphs">CI</text><text x="96.3" y="806">:</text>
<text x="65" y="825.2" textLength="20.6" lengthAdjust="spacingAndGlyphs">CK</text><text x="96.3" y="824">:</text>
<text x="65" y="843" textLength="19.3" lengthAdjust="spacingAndGlyphs">VP</text><text x="96.3" y="841.8">:</text>
<text x="65" y="861.7" textLength="28.9" lengthAdjust="spacingAndGlyphs">WP</text><text x="96.3" y="860.5">:</text>
</g>
<g font-size="12" font-weight="bold">
<text x="103.6" y="771.3" textLength="85.4" lengthAdjust="spacingAndGlyphs">オールタネータ</text>
<text x="103.6" y="789" textLength="122.4" lengthAdjust="spacingAndGlyphs">クーラ コンプレッサ</text>
<text x="103.6" y="807" textLength="137.4" lengthAdjust="spacingAndGlyphs">クーラ アイドル プーリ</text>
<text x="103.6" y="825" textLength="106" lengthAdjust="spacingAndGlyphs">クランク シヤフト</text>
<text x="103.6" y="842.8" textLength="82.4" lengthAdjust="spacingAndGlyphs">ベーン ポンプ</text>
<text x="103.6" y="861.5" textLength="96.4" lengthAdjust="spacingAndGlyphs">ウオータ ポンプ</text>
</g>
<!-- small table -->
<g fill="none" stroke="#000" stroke-width="1.5">
<rect x="66" y="958.7" width="167" height="89.3"/>
<path d="M96.2 958.7 V1048 M168.25 958.7 V1048 M66 981.25 H233 M66 1003.8 H233 M66 1026.6 H233"/>
</g>
<g font-size="13" font-weight="bold">
<text x="109" y="977" textLength="45.5" lengthAdjust="spacingAndGlyphs">P.N.C.</text>
<text x="172.4" y="977" textLength="57.6" lengthAdjust="spacingAndGlyphs">FIG.NO.</text>
</g>
<g font-size="13.5" stroke="#000" stroke-width="0.3">
<text x="105" y="999" textLength="55" lengthAdjust="spacingAndGlyphs">88310A</text>
<text x="182" y="999" textLength="35.75" lengthAdjust="spacingAndGlyphs">87-19</text>
<text x="105" y="1021.7" textLength="53.6" lengthAdjust="spacingAndGlyphs">16361A</text>
<text x="182" y="1021.7" textLength="36.3" lengthAdjust="spacingAndGlyphs">16-03</text>
<text x="103.6" y="1044" textLength="56.4" lengthAdjust="spacingAndGlyphs">44310A</text>
<text x="180.6" y="1044" textLength="37.1" lengthAdjust="spacingAndGlyphs">45-03</text>
</g>
<path d="M67 993.6 H94" fill="none" stroke="#000" stroke-width="2" stroke-dasharray="9 2.5 2 2.5"/>
<path d="M70.6 1016 H93.5" fill="none" stroke="#000" stroke-width="1.6"/>
<path d="M67 1038.5 H95" fill="none" stroke="#000" stroke-width="2" stroke-dasharray="8 2 2 2 2 2"/>
<!-- pulleys -->
<g fill="#fff" stroke="#000" stroke-width="1.4">
<circle cx="312.65" cy="849.4" r="26.2"/>
<circle cx="304.85" cy="907.9" r="17.9"/>
<circle cx="343.85" cy="925.1" r="17.4"/>
<circle cx="401.4" cy="861.1" r="27"/>
<circle cx="356.85" cy="977.1" r="29.8"/>
<circle cx="455" cy="976.5" r="19"/>
</g>
<path d="M338.7 839.6 L386.2 966.0 A31.4 31.4 0 0 1 329.4 992.3 L287.9 917.3 A19.4 19.4 0 0 1 285.5 908.1 L284.9 849.7 A27.8 27.8 0 0 1 338.7 839.6 Z" fill="none" stroke="#000" stroke-width="2.7" stroke-dasharray="12 2 2.5 2"/>
<path d="M328.5 914.1 L378.1 844.5 A28.6 28.6 0 0 1 428.3 870.7 L386.4 987.7 A31.4 31.4 0 0 1 325.5 977.4 L325.0 925.3 A18.9 18.9 0 0 1 328.5 914.1 Z" fill="none" stroke="#000" stroke-width="2.6"/>
<path d="M360.1 945.9 L457.2 956.1 A20.5 20.5 0 0 1 457.4 996.9 L360.5 1008.3" fill="none" stroke="#000" stroke-width="2.7" stroke-dasharray="10 2 2.5 2 2.5 2"/>
<g font-size="14.5" font-weight="bold" text-anchor="middle">
<text x="313" y="854.5">CC</text>
<text x="304.5" y="913">CI</text>
<text x="344" y="930">AL</text>
<text x="401.5" y="866.5">WP</text>
<text x="357.5" y="982.5">CK</text>
<text x="456" y="981.5">VP</text>
</g>
<text x="715" y="1050.5" font-size="11.5" font-weight="bold" textLength="73" lengthAdjust="spacingAndGlyphs">MC-7377-E</text>
</g>
<g id="notes">
<g font-size="15.5" font-weight="bold" stroke="#000" stroke-width="1.2">
<text x="504.5" y="651" textLength="15.5" lengthAdjust="spacingAndGlyphs">※</text>
<text x="504.5" y="669" textLength="15.5" lengthAdjust="spacingAndGlyphs">※</text>
<text x="504.5" y="687.5" textLength="15.5" lengthAdjust="spacingAndGlyphs">※</text>
<text x="504.5" y="706" textLength="15.5" lengthAdjust="spacingAndGlyphs">※</text>
</g>
<g font-size="21.5" font-weight="bold">
<text x="521.5" y="652.2" textLength="9" lengthAdjust="spacingAndGlyphs">1</text>
<text x="521.5" y="670" textLength="9" lengthAdjust="spacingAndGlyphs">2</text>
<text x="521.5" y="688.2" textLength="9" lengthAdjust="spacingAndGlyphs">3</text>
<text x="521.5" y="706.8" textLength="9" lengthAdjust="spacingAndGlyphs">4</text>
</g>
<g font-size="15.5" stroke="#000" stroke-width="0.6">
<text x="538.8" y="656.5">(</text>
<text x="584.5" y="656.5" textLength="54" lengthAdjust="spacingAndGlyphs">–8208)</text>
<text x="538.8" y="673.5" textLength="55" lengthAdjust="spacingAndGlyphs">(8208–</text>
<text x="634.5" y="673.5">)</text>
<text x="539.3" y="689.8" textLength="37" lengthAdjust="spacingAndGlyphs">LX60</text>
<text x="539.3" y="706.8" textLength="37" lengthAdjust="spacingAndGlyphs">LX65</text>
</g>
<path d="M495.3 712 L647.25 710.2" stroke="#000" stroke-width="2.2" fill="none" style="shape-rendering:auto"/>
</g>
</svg>
</body>
</html>
